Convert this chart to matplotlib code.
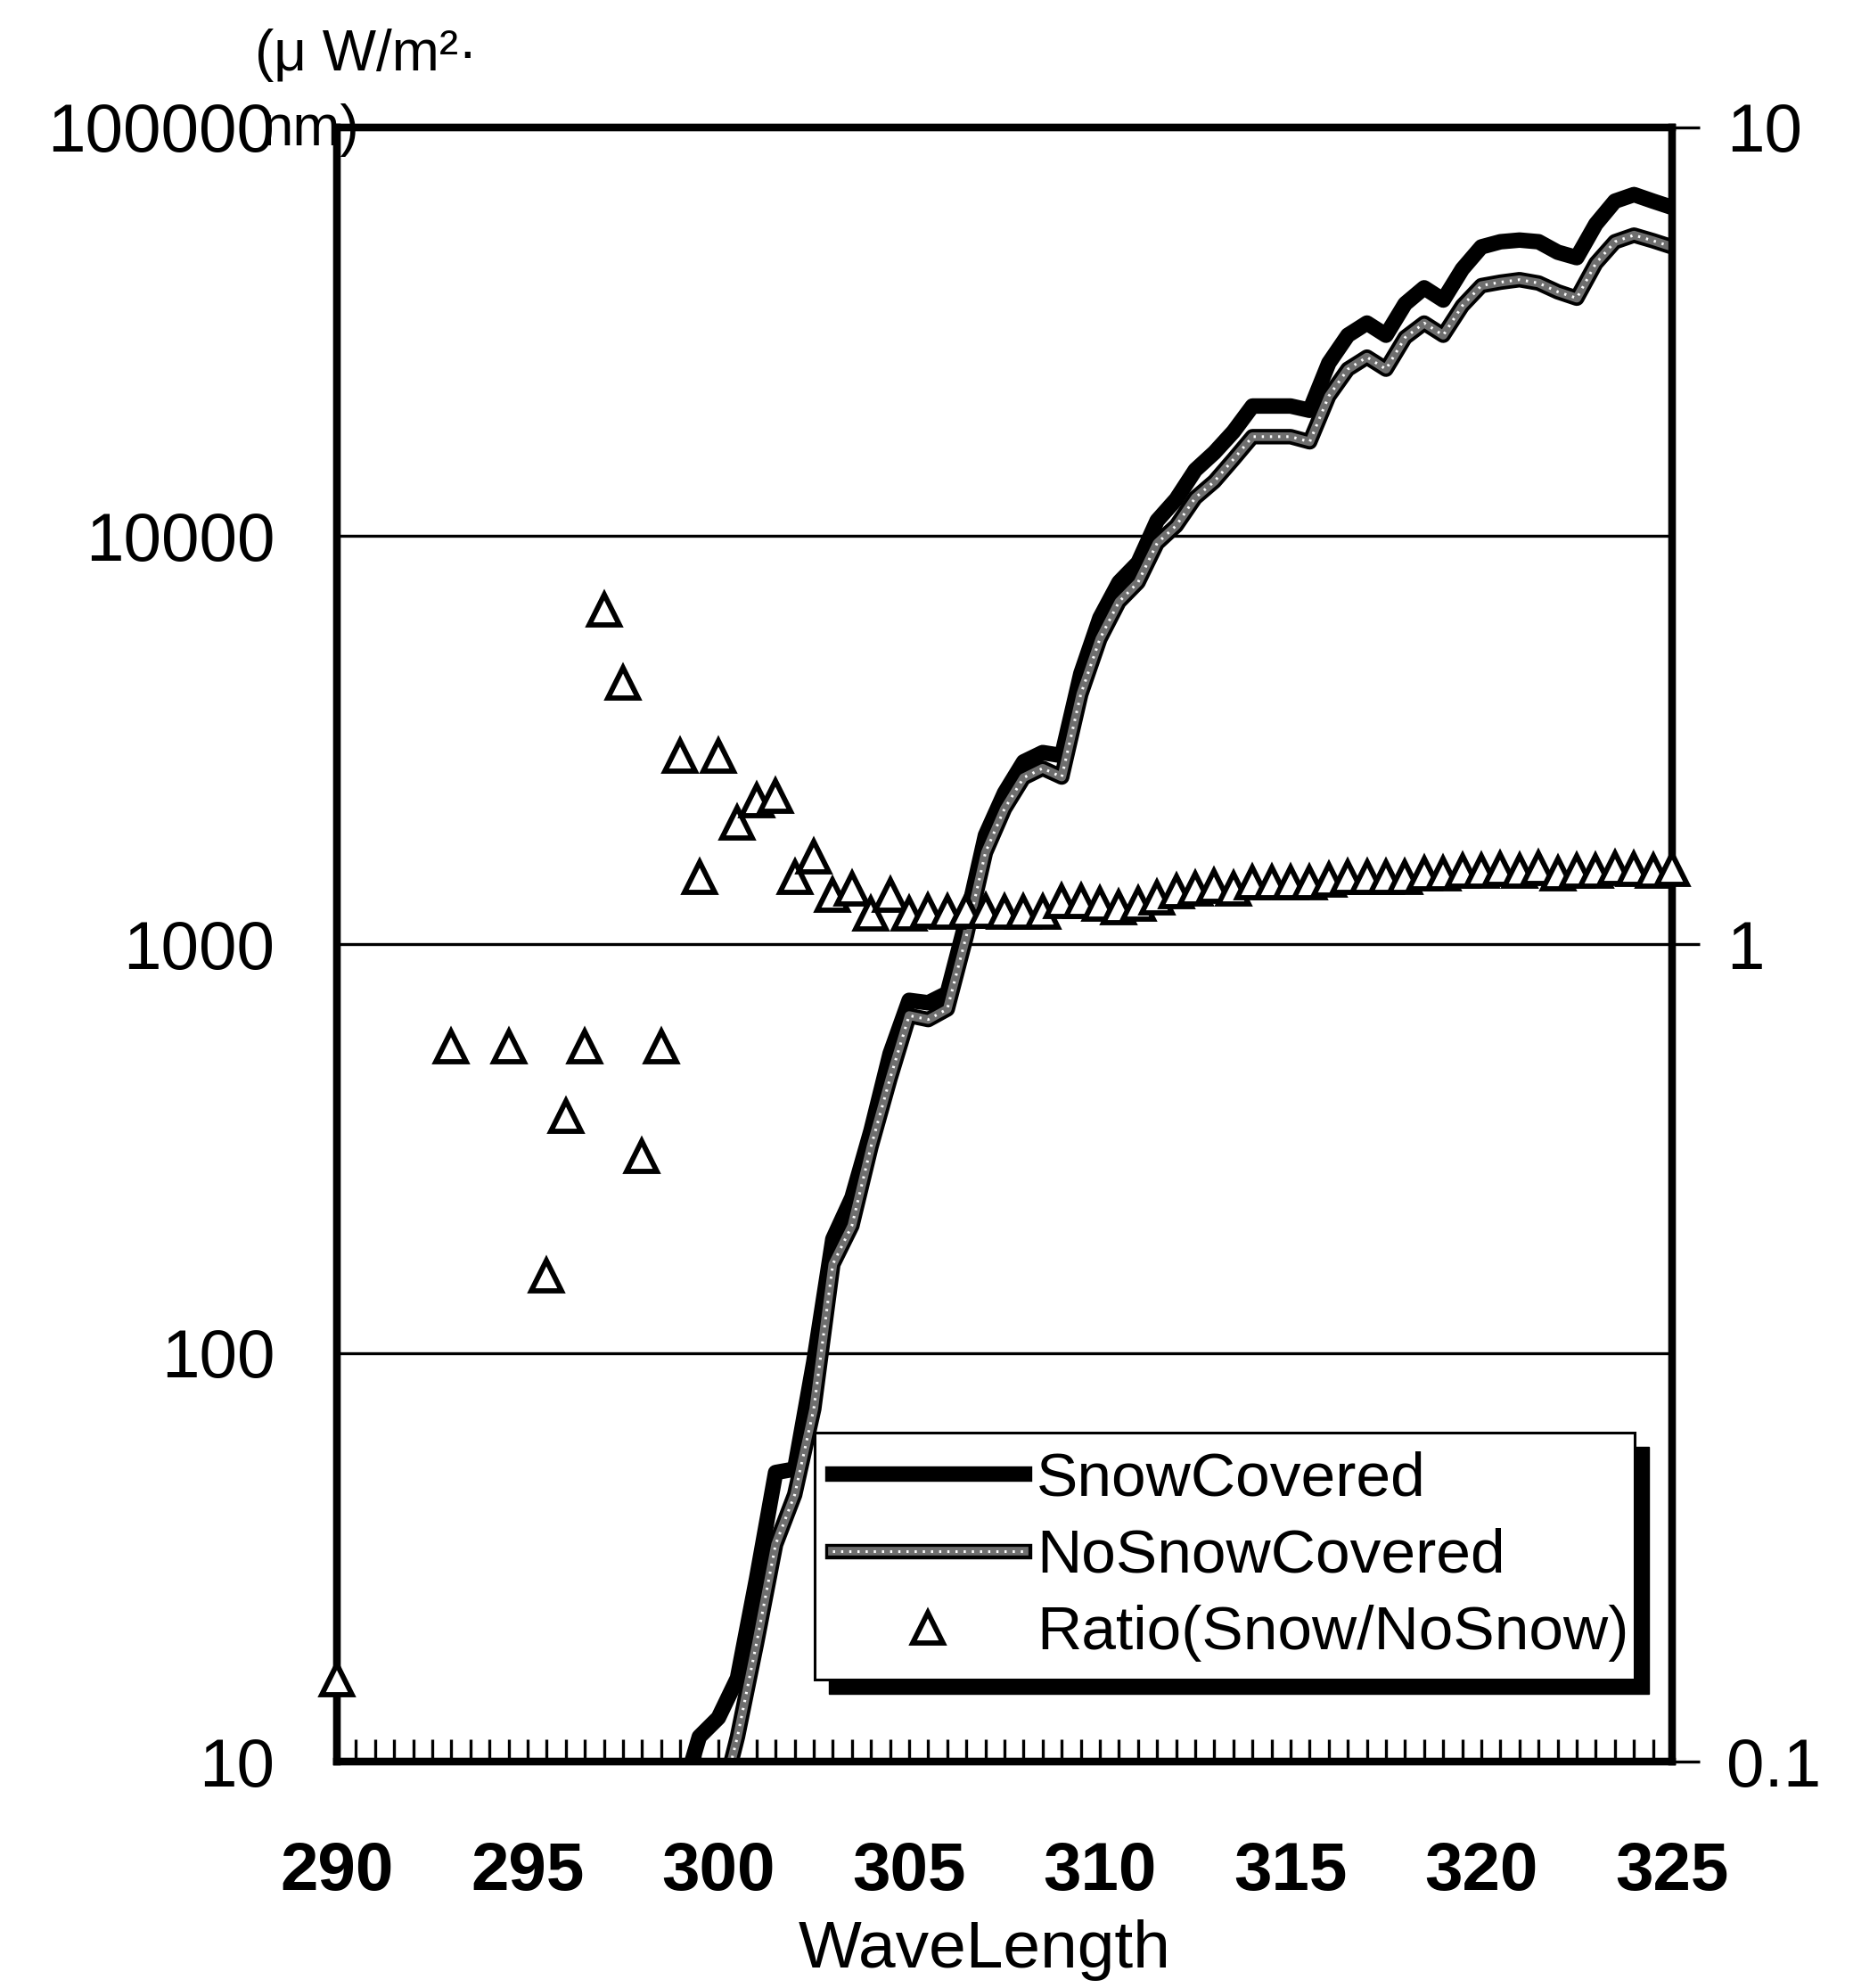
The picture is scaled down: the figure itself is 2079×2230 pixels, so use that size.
import numpy as np
import matplotlib
matplotlib.use("Agg")
import matplotlib.pyplot as plt
import matplotlib.patheffects as pe
from matplotlib.patches import Rectangle
from matplotlib.legend_handler import HandlerTuple
from matplotlib.ticker import FixedLocator, FixedFormatter, MultipleLocator, NullLocator

plt.rcParams["font.family"] = ["Liberation Sans", "DejaVu Sans"]

nan = np.nan

# wavelength categories (nm), 0.5 nm steps
wavelength = [
    290.0, 290.5, 291.0, 291.5, 292.0, 292.5, 293.0, 293.5, 294.0, 294.5,
    295.0, 295.5, 296.0, 296.5, 297.0, 297.5, 298.0, 298.5, 299.0, 299.5,
    300.0, 300.5, 301.0, 301.5, 302.0, 302.5, 303.0, 303.5, 304.0, 304.5,
    305.0, 305.5, 306.0, 306.5, 307.0, 307.5, 308.0, 308.5, 309.0, 309.5,
    310.0, 310.5, 311.0, 311.5, 312.0, 312.5, 313.0, 313.5, 314.0, 314.5,
    315.0, 315.5, 316.0, 316.5, 317.0, 317.5, 318.0, 318.5, 319.0, 319.5,
    320.0, 320.5, 321.0, 321.5, 322.0, 322.5, 323.0, 323.5, 324.0, 324.5,
    325.0,
]

# spectral irradiance (uW/m2/nm)
snow_covered = [
    nan, nan, nan, nan, nan, nan, nan, nan, nan, nan,
    nan, nan, nan, nan, nan, nan, nan, nan, 8.0, 11.5,
    12.8, 16, 28, 51, 52, 95, 190, 240, 350, 540,
    730, 720, 760, 1150, 1850, 2350, 2800, 2950, 2900, 4600,
    6300, 7700, 8600, 10900, 12300, 14500, 16000, 18000, 20800, 20800,
    20800, 20300, 26500, 31000, 33200, 31000, 37000, 40500, 37800, 45000,
    51000, 52500, 53000, 52500, 49500, 48000, 58000, 66000, 68500, 66000,
    63700,
]

no_snow_covered = [
    nan, nan, nan, nan, nan, nan, nan, nan, nan, nan,
    nan, nan, nan, nan, nan, nan, nan, nan, 4.7, 9.5,
    7.5, 11.5, 19.5, 34, 45, 73, 165, 205, 320, 470,
    670, 655, 695, 1050, 1680, 2150, 2560, 2700, 2570, 4100,
    5600, 6900, 7700, 9600, 10600, 12400, 13600, 15400, 17500, 17500,
    17500, 17000, 22000, 25600, 27400, 25600, 30600, 33200, 31000, 36600,
    41000, 41800, 42400, 41600, 39600, 38200, 46500, 52500, 54500, 52800,
    51000,
]

ratio = [
    0.126, nan, nan, nan, nan, nan, 0.75, nan, nan, 0.75,
    nan, 0.393, 0.616, 0.75, 2.57, 2.09, 0.55, 0.75, 1.70, 1.21,
    1.70, 1.41, 1.50, 1.52, 1.21, 1.28, 1.15, 1.17, 1.09, 1.15,
    1.09, 1.10, 1.095, 1.10, 1.10, 1.095, 1.095, 1.095, 1.13, 1.13,
    1.12, 1.11, 1.12, 1.14, 1.16, 1.17, 1.18, 1.17, 1.19, 1.19,
    1.19, 1.19, 1.20, 1.21, 1.21, 1.21, 1.21, 1.22, 1.22, 1.23,
    1.23, 1.235, 1.23, 1.24, 1.22, 1.23, 1.23, 1.24, 1.235, 1.23,
    1.235,
]

left_ticks = [10, 100, 1000, 10000, 100000]
left_labels = ["10", "100", "1000", "10000", "100000"]
right_ticks = [0.1, 1, 10]
right_labels = ["0.1", "1", "10"]
x_ticks = [290, 295, 300, 305, 310, 315, 320, 325]

fig = plt.figure(figsize=(20.79, 22.30), dpi=100)
fig.subplots_adjust(left=0.1818, right=0.9024, top=0.9359, bottom=0.1139)
ax = fig.add_subplot(111)

ax.set_yscale("log")
ax.set_ylim(10, 100000)
ax.set_xlim(290, 325)

# snow covered: thick black line
snow_line, = ax.plot(wavelength, snow_covered, color="black", lw=12.5,
                     solid_joinstyle="round", zorder=3)
# no snow: gray line with black rim and light speckles
gray_line, = ax.plot(wavelength, no_snow_covered, color="#6e6e6e", lw=7,
                     solid_joinstyle="round", zorder=4,
                     path_effects=[pe.Stroke(linewidth=12.5, foreground="black"),
                                   pe.Normal()])
dots_line, = ax.plot(wavelength, no_snow_covered, color="white", lw=2.2,
                     ls=(0, (0.8, 2.2)), zorder=5)

ax.yaxis.set_major_locator(FixedLocator(left_ticks))
ax.yaxis.set_major_formatter(FixedFormatter(left_labels))
ax.yaxis.set_minor_locator(NullLocator())
ax.tick_params(axis="y", which="both", length=0, pad=50, labelsize=55)
ax.grid(axis="y", which="major", color="black", lw=2.4)

ax.xaxis.set_major_locator(FixedLocator(x_ticks))
ax.xaxis.set_minor_locator(MultipleLocator(0.5))
ax.tick_params(axis="x", which="both", direction="in", length=18, width=2.4,
               color="black")
ax.tick_params(axis="x", which="major", pad=64, labelsize=55)
for lbl in ax.get_xticklabels():
    lbl.set_fontweight("bold")

for side in ["left", "right", "top", "bottom"]:
    ax.spines[side].set_linewidth(6)

ax.set_xlabel("WaveLength", fontsize=54, labelpad=12)
ax.xaxis.label.set_position((0.485, 0))

# ratio on secondary log axis
ax2 = ax.twinx()
ax2.set_yscale("log")
ax2.set_ylim(0.1, 10)
tri, = ax2.plot(wavelength, ratio, ls="none", marker="^", ms=25,
                mfc="white", mec="black", mew=4.2, clip_on=False, zorder=6)
ax2.yaxis.set_major_locator(FixedLocator(right_ticks))
ax2.yaxis.set_major_formatter(FixedFormatter(right_labels))
ax2.yaxis.set_minor_locator(NullLocator())
ax2.tick_params(axis="y", which="major", direction="out", length=22, width=2.4,
                pad=22, labelsize=55)
for side in ["left", "right", "top", "bottom"]:
    ax2.spines[side].set_linewidth(6)

# unit label (wraps onto the top tick label, as in the source)
fig.text(286 / 2079, 1 - 62 / 2230, "(μ W/m²·", fontsize=46,
         ha="left", va="center")
fig.text(294 / 2079, 1 - 146 / 2230, "nm)", fontsize=46,
         ha="left", va="center")

# legend box with drop shadow
x0, y0, w, h = 0.358, 0.0502, 0.614, 0.1511
ax2.add_patch(Rectangle((x0 + 0.0105, y0 - 0.0085), w, h, transform=ax2.transAxes,
                        facecolor="black", edgecolor="black", zorder=7,
                        clip_on=False))
ax2.add_patch(Rectangle((x0, y0), w, h, transform=ax2.transAxes,
                        facecolor="white", edgecolor="black", lw=2.2, zorder=8,
                        clip_on=False))

leg = ax2.legend([snow_line, (gray_line, dots_line), tri],
                 ["SnowCovered", "NoSnowCovered", "Ratio(Snow/NoSnow)"],
                 handler_map={tuple: HandlerTuple(ndivide=1)},
                 loc="upper left", bbox_to_anchor=(0.371, 0.19),
                 frameon=False, fontsize=50, handlelength=3.1,
                 handletextpad=0.2, labelspacing=0.32, borderpad=0,
                 borderaxespad=0)
leg.set_zorder(9)

fig.savefig("out.png", dpi=100)
